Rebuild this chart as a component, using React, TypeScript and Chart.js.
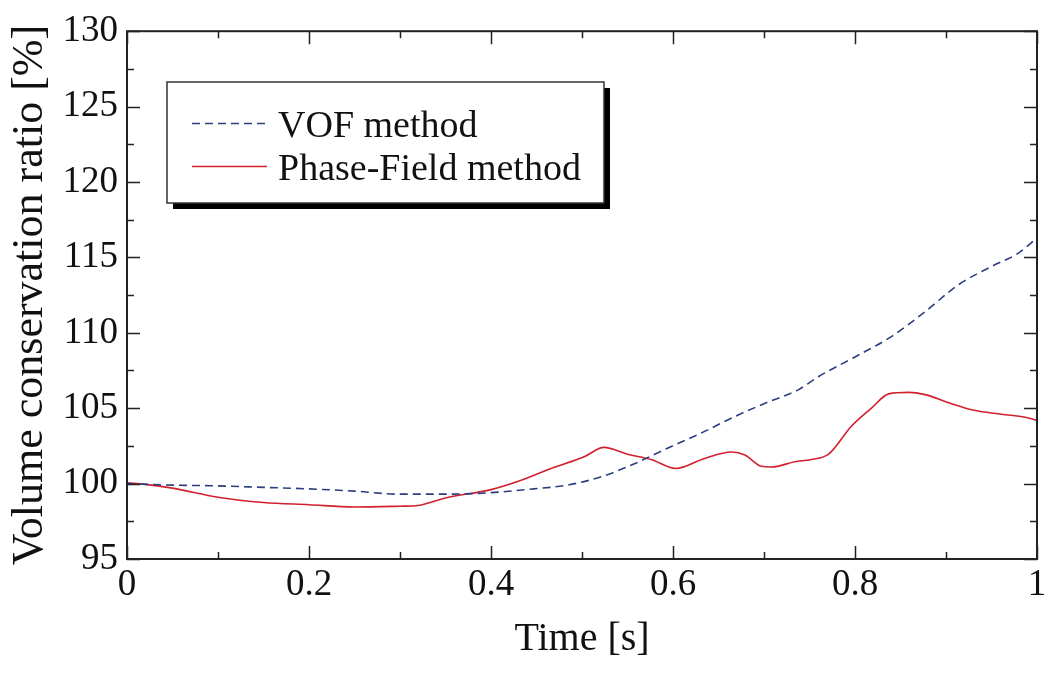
import React, { useEffect, useRef } from "react";
import { Chart, registerables } from "chart.js";

Chart.register(...registerables);

const vofTime = [0, 0.05, 0.1, 0.15, 0.2, 0.25, 0.3, 0.35, 0.4, 0.447, 0.484, 0.521, 0.557, 0.594, 0.631, 0.668, 0.704, 0.737, 0.76, 0.8, 0.84, 0.877, 0.914, 0.95, 0.98, 1.0];
const vofValues = [100.0, 99.9, 99.85, 99.75, 99.65, 99.5, 99.3, 99.3, 99.4, 99.65, 99.9, 100.45, 101.3, 102.35, 103.35, 104.45, 105.4, 106.2, 107.1, 108.4, 109.75, 111.4, 113.2, 114.4, 115.3, 116.3];

const pfTime = [0, 0.02, 0.05, 0.1, 0.15, 0.2, 0.25, 0.3, 0.32, 0.35, 0.4, 0.43, 0.466, 0.503, 0.524, 0.55, 0.576, 0.603, 0.634, 0.664, 0.679, 0.697, 0.708, 0.734, 0.752, 0.771, 0.796, 0.818, 0.837, 0.859, 0.877, 0.906, 0.928, 0.961, 0.987, 1.0];
const pfValues = [100.05, 99.95, 99.7, 99.1, 98.75, 98.6, 98.45, 98.5, 98.55, 99.05, 99.6, 100.15, 101.0, 101.8, 102.4, 101.95, 101.6, 101.0, 101.65, 102.1, 101.9, 101.15, 101.1, 101.45, 101.6, 101.95, 103.8, 105.0, 105.95, 106.05, 105.9, 105.3, 104.9, 104.6, 104.4, 104.2];

const xTicks = [0, 0.2, 0.4, 0.6, 0.8, 1];
const xTickLabels = ["0", "0.2", "0.4", "0.6", "0.8", "1"];
const xMinorTicks = [0.1, 0.3, 0.5, 0.7, 0.9];
const yTicks = [95, 100, 105, 110, 115, 120, 125, 130];
const yTickLabels = ["95", "100", "105", "110", "115", "120", "125", "130"];
const yMinorTicks = [97.5, 102.5, 107.5, 112.5, 117.5, 122.5, 127.5];

const seriesLabels = ["VOF method", "Phase-Field method"];
const xTitle = "Time [s]";
const yTitle = "Volume conservation ratio [%]";

const SERIF = "'Liberation Serif', 'Times New Roman', serif";

const framePlugin = {
  id: "frameTicks",
  afterDatasetsDraw(chart: any) {
    const { ctx, chartArea } = chart;
    const { left, right, top, bottom } = chartArea;
    const xs = chart.scales.x;
    const ys = chart.scales.y;
    ctx.save();
    ctx.strokeStyle = "#222";
    ctx.lineWidth = 1.5;
    const drawX = (v: number, len: number) => {
      const px = Math.round(xs.getPixelForValue(v)) + 0.5;
      ctx.beginPath();
      ctx.moveTo(px, bottom);
      ctx.lineTo(px, bottom - len);
      ctx.moveTo(px, top);
      ctx.lineTo(px, top + len);
      ctx.stroke();
    };
    const drawY = (v: number, len: number) => {
      const py = Math.round(ys.getPixelForValue(v)) + 0.5;
      ctx.beginPath();
      ctx.moveTo(left, py);
      ctx.lineTo(left + len, py);
      ctx.moveTo(right, py);
      ctx.lineTo(right - len, py);
      ctx.stroke();
    };
    xTicks.forEach((v) => drawX(v, 13));
    xMinorTicks.forEach((v) => drawX(v, 7));
    yTicks.forEach((v) => drawY(v, 13));
    yMinorTicks.forEach((v) => drawY(v, 7));
    ctx.lineWidth = 2;
    ctx.strokeStyle = "#222";
    ctx.strokeRect(left, top, right - left, bottom - top);
    ctx.restore();
  },
  afterDraw(chart: any) {
    const { ctx } = chart;
    const bx = 167, by = 82, bw = 437, bh = 121;
    ctx.save();
    ctx.fillStyle = "#000";
    ctx.fillRect(bx + 6, by + 6, bw, bh);
    ctx.fillStyle = "#fff";
    ctx.fillRect(bx, by, bw, bh);
    ctx.strokeStyle = "#333";
    ctx.lineWidth = 1.5;
    ctx.strokeRect(bx, by, bw, bh);
    const rows = [123, 166];
    const baselines = [137, 180];
    chart.data.datasets.forEach((ds: any, i: number) => {
      ctx.beginPath();
      ctx.strokeStyle = ds.borderColor;
      ctx.lineWidth = ds.borderWidth;
      ctx.setLineDash(ds.borderDash || []);
      ctx.moveTo(192, rows[i] + 0.5);
      ctx.lineTo(267, rows[i] + 0.5);
      ctx.stroke();
      ctx.setLineDash([]);
      ctx.fillStyle = "#111";
      ctx.font = `38px ${SERIF}`;
      ctx.textBaseline = "alphabetic";
      ctx.textAlign = "left";
      ctx.fillText(ds.label, 278, baselines[i]);
    });
    ctx.restore();
  },
};

export default function App() {
  const ref = useRef<HTMLCanvasElement>(null);
  useEffect(() => {
    document.body.style.margin = "0";
    const canvas = ref.current;
    if (!canvas) return;
    const chart = new Chart(canvas, {
      type: "line",
      data: {
        datasets: [
          {
            label: seriesLabels[0],
            data: vofTime.map((t, i) => ({ x: t, y: vofValues[i] })),
            borderColor: "#2c3e80",
            borderWidth: 1.6,
            borderDash: [8, 5],
            pointRadius: 0,
            cubicInterpolationMode: "monotone",
            fill: false,
          },
          {
            label: seriesLabels[1],
            data: pfTime.map((t, i) => ({ x: t, y: pfValues[i] })),
            borderColor: "#d2202e",
            borderWidth: 1.6,
            pointRadius: 0,
            cubicInterpolationMode: "monotone",
            fill: false,
          },
        ],
      },
      options: {
        responsive: false,
        animation: false,
        layout: { padding: { top: 31, right: 20, left: 0, bottom: 0 } },
        plugins: { legend: { display: false }, tooltip: { enabled: false } },
        scales: {
          x: {
            type: "linear",
            min: 0,
            max: 1,
            grid: { display: false, drawTicks: false },
            border: { display: false },
            afterBuildTicks: (s: any) => {
              s.ticks = xTicks.map((v) => ({ value: v }));
            },
            afterFit: (s: any) => {
              s.height = 116;
            },
            ticks: {
              color: "#111",
              padding: 4,
              maxRotation: 0,
              autoSkip: false,
              font: { family: SERIF, size: 37 },
              callback: (v: any) => {
                const i = xTicks.indexOf(Number(v));
                return i >= 0 ? xTickLabels[i] : "";
              },
            },
            title: {
              display: true,
              text: xTitle,
              color: "#111",
              font: { family: SERIF, size: 40 },
              padding: { top: 0, bottom: 12 },
            },
          },
          y: {
            type: "linear",
            min: 95,
            max: 130,
            grid: { display: false, drawTicks: false },
            border: { display: false },
            afterBuildTicks: (s: any) => {
              s.ticks = yTicks.map((v) => ({ value: v }));
            },
            afterFit: (s: any) => {
              s.width = 127;
            },
            ticks: {
              color: "#111",
              padding: 9,
              autoSkip: false,
              font: { family: SERIF, size: 37 },
              callback: (v: any) => {
                const i = yTicks.indexOf(Number(v));
                return i >= 0 ? yTickLabels[i] : "";
              },
            },
            title: {
              display: true,
              text: yTitle,
              color: "#111",
              font: { family: SERIF, size: 44 },
              padding: { top: 4, bottom: 0 },
            },
          },
        },
      },
      plugins: [framePlugin],
    });
    return () => chart.destroy();
  }, []);
  return (
    <div style={{ width: 1057, height: 675, background: "#fff" }}>
      <canvas ref={ref} width={1057} height={675} style={{ display: "block" }} />
    </div>
  );
}
